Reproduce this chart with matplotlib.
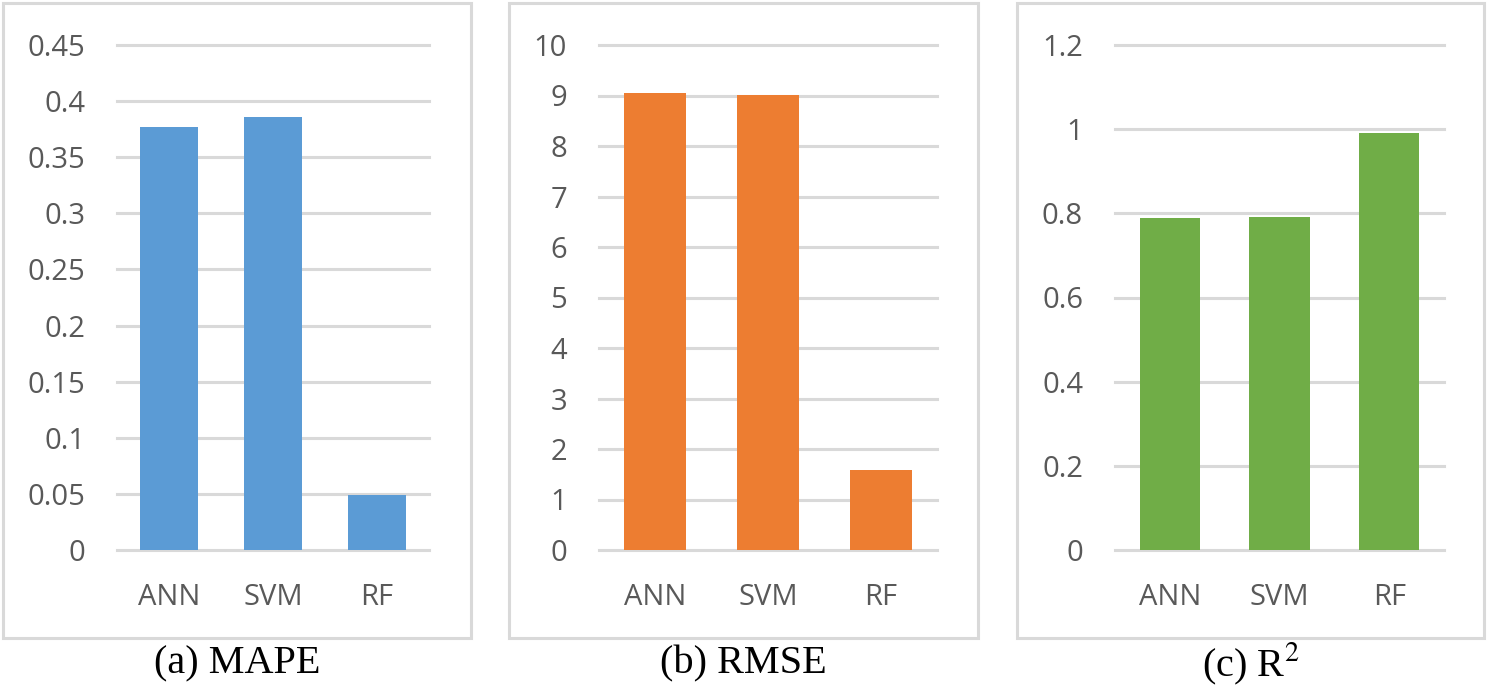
import matplotlib
matplotlib.use("Agg")
import matplotlib.pyplot as plt
from matplotlib.patches import Rectangle

plt.rcParams['mathtext.fontset'] = 'stix'

# data
models = ["ANN", "SVM", "RF"]
mape = [0.377, 0.386, 0.049]
rmse = [9.04, 9.01, 1.58]
r2 = [0.790, 0.792, 0.992]

mape_ticks = [0, 0.05, 0.1, 0.15, 0.2, 0.25, 0.3, 0.35, 0.4, 0.45]
mape_labels = ["0", "0.05", "0.1", "0.15", "0.2", "0.25", "0.3", "0.35", "0.4", "0.45"]
rmse_ticks = list(range(0, 11))
rmse_labels = [str(t) for t in rmse_ticks]
r2_ticks = [0, 0.2, 0.4, 0.6, 0.8, 1.0, 1.2]
r2_labels = ["0", "0.2", "0.4", "0.6", "0.8", "1", "1.2"]

captions = ["(a) MAPE", "(b) RMSE", r"(c) R$^2$"]
colors = ["#5B9BD5", "#ED7D31", "#70AD47"]

W, H = 1487, 688
fig = plt.figure(figsize=(W / 100, H / 100), dpi=100)

# pixel layout: (axes left, axes right), (box left, box right)
axes_px = [(117, 429), (599, 937), (1115, 1444)]
box_px = [(3, 471), (509, 978), (1017, 1484)]
top_px, bottom_px = 45, 550

panels = [(mape, mape_ticks, mape_labels),
          (rmse, rmse_ticks, rmse_labels),
          (r2, r2_ticks, r2_labels)]

for i, (vals, ticks, labels) in enumerate(panels):
    x0, x1 = axes_px[i]
    ax = fig.add_axes([x0 / W, 1 - bottom_px / H, (x1 - x0) / W, (bottom_px - top_px) / H])
    ax.bar(range(len(models)), vals, width=0.55, color=colors[i], zorder=3)
    ax.set_xlim(-0.5, len(models) - 0.5)
    ax.set_ylim(ticks[0], ticks[-1])
    ax.set_yticks(ticks)
    ax.set_yticklabels(labels, family="Open Sans")
    ax.set_xticks(range(len(models)))
    ax.set_xticklabels(models, family="Open Sans")
    for t in ticks:
        ax.axhline(t, color="#d9d9d9", lw=2.2, zorder=1, clip_on=False)
    for s in ax.spines.values():
        s.set_visible(False)
    ax.tick_params(axis="y", length=0, pad=23, labelsize=21, labelcolor="#595959")
    ax.tick_params(axis="x", length=0, pad=24, labelsize=21, labelcolor="#595959")

    # light gray frame around each chart
    b0, b1 = box_px[i]
    fig.patches.append(Rectangle((b0 / W, 1 - 638 / H), (b1 - b0) / W, 635 / H,
                                 transform=fig.transFigure, fill=False,
                                 edgecolor="#d9d9d9", lw=2.2))
    fig.text((b0 + b1) / 2 / W, 1 - 664 / H, captions[i], ha="center", va="center",
             fontsize=29, family="Liberation Serif")

fig.savefig("out.png", dpi=100)
